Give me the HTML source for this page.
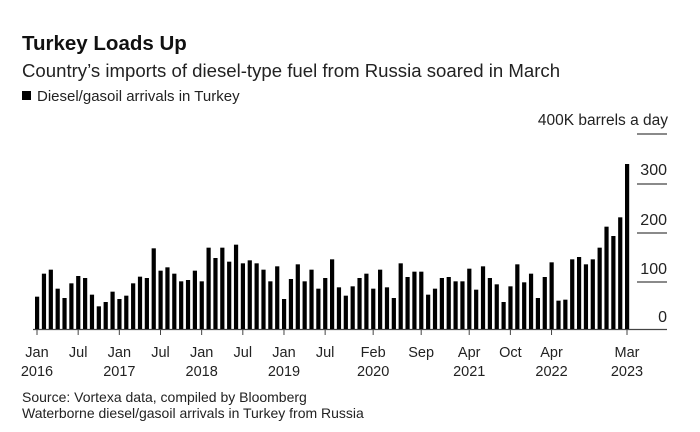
<!DOCTYPE html>
<html><head><meta charset="utf-8"><style>
body{margin:0;background:#fff;}
svg{display:block;font-family:"Liberation Sans",Arial,sans-serif;}
</style></head><body>
<svg width="700" height="432" viewBox="0 0 700 432" xmlns="http://www.w3.org/2000/svg">
<rect width="700" height="432" fill="#fff"/>
<text x="22" y="50" font-size="20.5" font-weight="bold" fill="#111">Turkey Loads Up</text>
<text x="22" y="77" font-size="18.6" fill="#222">Country’s imports of diesel-type fuel from Russia soared in March</text>
<rect x="22" y="91" width="9" height="9" fill="#000"/>
<text x="37" y="101" font-size="15" fill="#222">Diesel/gasoil arrivals in Turkey</text>
<text x="668" y="125" font-size="15.5" fill="#222" text-anchor="end">400K barrels a day</text>
<g stroke="#444" stroke-width="1.3">
<line x1="637" x2="667" y1="134" y2="134"/>
<line x1="637" x2="667" y1="184" y2="184"/>
<line x1="637" x2="667" y1="233" y2="233"/>
<line x1="637" x2="667" y1="282" y2="282"/>
<line x1="33" x2="667" y1="329.5" y2="329.5"/>
</g>
<g font-size="16" fill="#222" text-anchor="end">
<text x="667" y="175">300</text>
<text x="667" y="225">200</text>
<text x="667" y="274">100</text>
<text x="667" y="322">0</text>
</g>
<g id="bars" fill="#000"></g>
<g id="ticks" stroke="#444" stroke-width="1"></g>
<g id="labels" font-size="14.5" fill="#222" text-anchor="middle"></g>
<text x="22" y="402" font-size="14" fill="#222">Source: Vortexa data, compiled by Bloomberg</text>
<text x="22" y="418" font-size="14" fill="#222">Waterborne diesel/gasoil arrivals in Turkey from Russia</text>
<script>
var t1=[443,374,362,419,447,403,381,387,437,472,459,428,450,440,403,383,387,298,365,355,374,397,393,365,397,296,327,296,338,287,343,334,343,362,397,352,450,390,346,397,362,419,387];
var t2=[331,415,440,412,387,374,419,362,415,447,343,384,368,368,437,419,387,384,397,397,359,422,352,387,406,459,412,346,400,374,447,384,340,455,452,331,324,346,331,296,233,261,205,45];
var t=t1.concat(t2),ns="http://www.w3.org/2000/svg";
var g=document.getElementById("bars");
function X(i){return 37+i*(590/86);}
t.forEach(function(v,i){var h=(540-v)/3;var r=document.createElementNS(ns,"rect");
r.setAttribute("x",(X(i)-2).toFixed(2));r.setAttribute("y",(329-h).toFixed(2));
r.setAttribute("width","4.2");r.setAttribute("height",h.toFixed(2));g.appendChild(r);});
var L=[[0,"Jan","2016"],[6,"Jul",""],[12,"Jan","2017"],[18,"Jul",""],[24,"Jan","2018"],[30,"Jul",""],[36,"Jan","2019"],[42,"Jul",""],[49,"Feb","2020"],[56,"Sep",""],[63,"Apr","2021"],[69,"Oct",""],[75,"Apr","2022"],[86,"Mar","2023"]];
var tk=document.getElementById("ticks"),lb=document.getElementById("labels");
L.forEach(function(l){var x=X(l[0]);var ln=document.createElementNS(ns,"line");
ln.setAttribute("x1",x);ln.setAttribute("x2",x);ln.setAttribute("y1",329);ln.setAttribute("y2",335);tk.appendChild(ln);
var a=document.createElementNS(ns,"text");a.setAttribute("x",x);a.setAttribute("y",357);a.textContent=l[1];lb.appendChild(a);
if(l[2]){var b=document.createElementNS(ns,"text");b.setAttribute("x",x);b.setAttribute("y",376);b.textContent=l[2];lb.appendChild(b);}});
</script>
</svg>
</body></html>
